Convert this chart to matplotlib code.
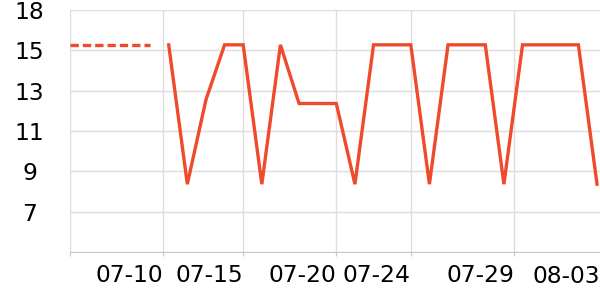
import matplotlib
matplotlib.use('Agg')
import matplotlib.pyplot as plt
import numpy as np

# day numbers: July 1 = 1, Aug 1 = 32
past_days = [5.7, 10.0]
past_vals = [16.2, 16.2]

days = list(range(11, 35))
vals = [16.2, 8.6, 13.2, 16.2, 16.2, 8.6, 16.2, 13.0, 13.0, 13.0, 8.6, 16.2,
        16.2, 16.2, 8.6, 16.2, 16.2, 16.2, 8.6, 16.2, 16.2, 16.2, 16.2, 8.6]

tick_days = [5.7, 10.7, 15.0, 20.0, 24.0, 29.56]
tick_labels = ['', '07-10', '07-15', '07-20', '07-24', '07-29']
end_label = '08-03'

y_ticks = np.linspace(4.9, 18.1, 7)
y_labels = ['', '7', '9', '11', '13', '15', '18']

color = '#ef4a2c'

fig = plt.figure(figsize=(6, 3), dpi=100)
ax = fig.add_axes([70 / 600, 48 / 300, 530 / 600, 242 / 300])

ax.plot(days, vals, color=color, lw=2.4, solid_joinstyle='miter')
dash, = ax.plot(past_days, past_vals, color=color, lw=2.4)
dash.set_dashes([2.5, 1.2])

ax.set_xlim(5.7, 34.16)
ax.set_ylim(4.9, 18.1)

ax.set_xticks(tick_days)
ax.set_xticklabels(tick_labels, fontsize=16.8, ha='right')
ax.set_yticks(y_ticks)
ax.set_yticklabels(y_labels, fontsize=16.8, ha='center')
ax.tick_params(axis='y', length=0, pad=29)
ax.tick_params(axis='x', length=3, color='#c8c8c8', pad=6)
ax.text(1.0, -0.052, end_label, transform=ax.transAxes, fontsize=16.8,
        ha='right', va='top')

ax.grid(True, color='#dddddd', lw=1)
ax.set_axisbelow(True)
for s in ['top', 'right', 'left']:
    ax.spines[s].set_visible(False)
ax.spines['bottom'].set_color('#c8c8c8')

fig.savefig('out.png', dpi=100)
